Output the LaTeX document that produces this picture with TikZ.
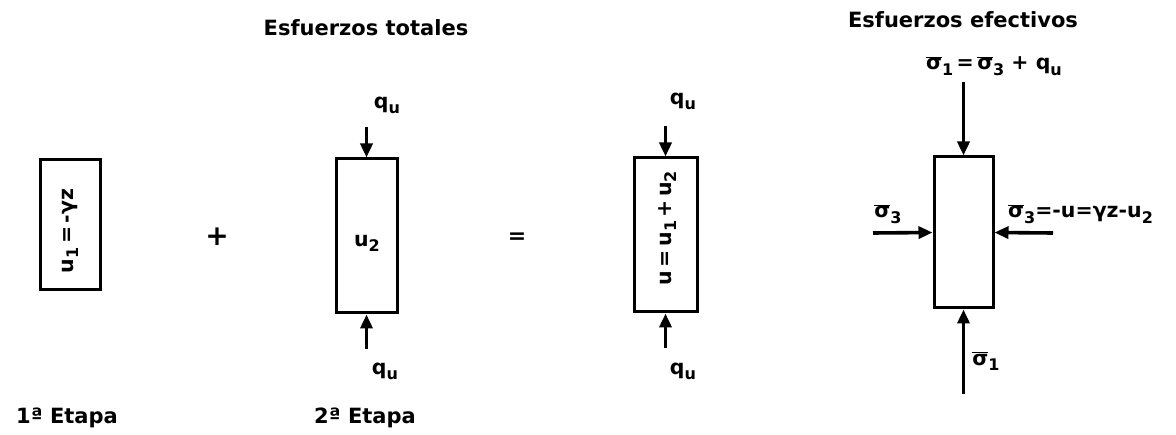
\documentclass[tikz,border=0pt]{standalone}
\usepackage{fontspec}
\setmainfont{DejaVu Sans}
\usetikzlibrary{arrows.meta}
\newcommand\lsub[1]{\raisebox{-0.45ex}{\fontsize{16}{16}\selectfont #1}}
\newcommand\sigb{\ensuremath{\overline{\mbox{σ}}}}
\begin{document}
\begin{tikzpicture}[x=1pt,y=-1pt,
  box/.style={draw, line width=3pt, inner sep=0pt},
  force/.style={line width=3.6pt, -{Triangle[length=14pt,width=12pt]}},
  lab/.style={font=\bfseries\fontsize{20.5}{22}\selectfont, inner sep=1pt},
  head/.style={font=\bfseries\fontsize{21}{26}\selectfont, inner sep=1pt}]
\useasboundingbox (0,0) rectangle (1176,435);
% headings
\node[head] (h1) at (366,28) {Esfuerzos totales};
\node[head] (h2) at (963,20) {Esfuerzos efectivos};
% box 1
\node[box, minimum width=60pt, minimum height=130pt] (b1) at (70,225) {};
\node[lab, rotate=90] (t1) at (70,231) {u\lsub{1}\,=\,-γz};
\node[head] (e1) at (67,418) {1ª Etapa};
% plus
\node[font=\bfseries\fontsize{28}{28}\selectfont] (plus) at (217,237) {+};
% box 2
\node[box, minimum width=61pt, minimum height=154pt] (b2) at (366.5,236) {};
\node[lab] (t2) at (367,243) {u\lsub{2}};
\coordinate (a2t) at (366.5,127);
\coordinate (a2b) at (366.5,349);
\draw[force] (a2t) -- (b2.north);
\draw[force] (a2b) -- (b2.south);
\node[lab] (q2t) at (387,105) {q\lsub{u}};
\node[lab] (q2b) at (385,371) {q\lsub{u}};
\node[head] (e2) at (365,418) {2ª Etapa};
% equals
\node[font=\bfseries\fontsize{22}{22}\selectfont] (eq) at (517,238) {=};
% box 3
\node[box, minimum width=63pt, minimum height=154pt] (b3) at (665.5,235) {};
\node[lab, rotate=90] (t3) at (668,228) {u\,=\,u\lsub{1}\,+\,u\lsub{2}};
\coordinate (a3t) at (665.5,126);
\coordinate (a3b) at (665.5,348);
\draw[force] (a3t) -- (b3.north);
\draw[force] (a3b) -- (b3.south);
\node[lab] (q3t) at (683,101) {q\lsub{u}};
\node[lab] (q3b) at (683,371) {q\lsub{u}};
% box 4
\node[box, minimum width=59pt, minimum height=151pt] (b4) at (963.5,232.5) {};
\coordinate (a4t) at (963.5,82);
\coordinate (a4b) at (963.5,394);
\coordinate (a4l) at (873,233);
\coordinate (a4r) at (1053,233);
\draw[force] (a4t) -- (b4.north);
\draw[force] (a4b) -- (b4.south);
\draw[force] (a4l) -- (b4.west);
\draw[force] (a4r) -- (b4.east);
\node[lab] (s1t) at (994,66) {\sigb\lsub{1}\,=\,\sigb\lsub{3} + q\lsub{u}};
\node[lab] (s3l) at (888,214) {\sigb\lsub{3}};
\node[lab, anchor=west] (s3r) at (1007,214) {\sigb\lsub{3}=-u=γz-u\lsub{2}};
\node[lab] (s1b) at (986,361) {\sigb\lsub{1}};
\end{tikzpicture}
\end{document}
